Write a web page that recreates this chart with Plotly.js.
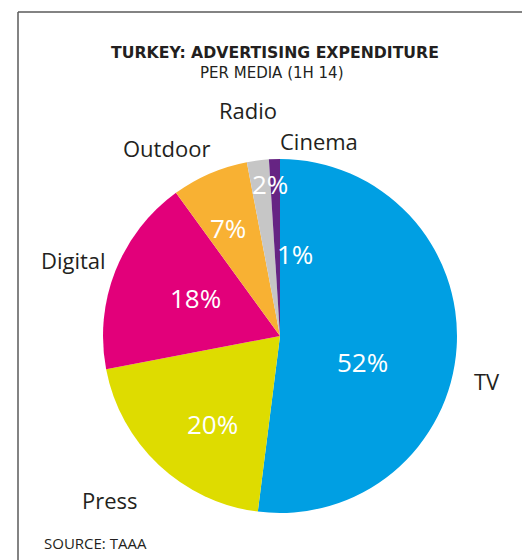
<!DOCTYPE html>
<html>
<head>
<meta charset="utf-8">
<script src="https://cdn.plot.ly/plotly-3.0.1.min.js"></script>
<style>html,body{margin:0;padding:0;background:#fff;}#chart{width:522px;height:560px;}</style>
</head>
<body>
<div id="chart"></div>
<script>
// ---- data ----
const categories = ["TV", "Press", "Digital", "Outdoor", "Radio", "Cinema"];
const shares = [52, 20, 18, 7, 2, 1];
const colors = ["#009FE3", "#DEDC00", "#E2007A", "#F8B133", "#C6C6C6", "#662483"];
const titleText = "TURKEY: ADVERTISING EXPENDITURE";
const subtitleText = "PER MEDIA (1H 14)";
const sourceText = "SOURCE: TAAA";

// ---- layout helpers (pixel positions of the text labels, top-left origin) ----
const W = 522, H = 560;
const labelPos = [[487, 381], [110, 500], [73, 260], [166, 148], [248, 110], [319, 141]];
const pctPos   = [[362, 362], [212, 424], [195, 298], [228, 228], [270, 184], [295, 254]];

const FONT = "'Open Sans', 'Noto Sans', sans-serif";
const HFONT = "'DejaVu Sans', 'Open Sans', sans-serif";
const px = x => x / W;
const py = y => 1 - y / H;

const pieTrace = {
  type: "pie",
  labels: categories,
  values: shares,
  sort: false,
  direction: "clockwise",
  rotation: 0,
  marker: {colors: colors, line: {width: 0}},
  textinfo: "none",
  domain: {x: [px(103), px(457)], y: [py(513), py(159)]},
  hoverinfo: "label+percent",
  showlegend: false
};

const annotations = [];
categories.forEach((c, i) => {
  annotations.push({
    text: c, xref: "paper", yref: "paper",
    x: px(labelPos[i][0]), y: py(labelPos[i][1]),
    xanchor: "center", yanchor: "middle", showarrow: false,
    font: {family: FONT, size: 22, color: "#231f20"}
  });
  annotations.push({
    text: shares[i] + "%", xref: "paper", yref: "paper",
    x: px(pctPos[i][0]), y: py(pctPos[i][1]),
    xanchor: "center", yanchor: "middle", showarrow: false,
    font: {family: FONT, size: 26, color: "#ffffff"}
  });
});
annotations.push(
  {text: "<b>" + titleText + "</b>", xref: "paper", yref: "paper", x: px(274.5), y: py(52), xanchor: "center", yanchor: "middle", showarrow: false, font: {family: HFONT, size: 15.7, color: "#231f20"}},
  {text: subtitleText, xref: "paper", yref: "paper", x: px(272), y: py(73), xanchor: "center", yanchor: "middle", showarrow: false, font: {family: HFONT, size: 15, color: "#231f20"}},
  {text: sourceText, xref: "paper", yref: "paper", x: px(42), y: py(543), xanchor: "left", yanchor: "middle", showarrow: false, font: {family: FONT, size: 15, color: "#231f20"}}
);

const layout = {
  width: W,
  height: H,
  margin: {l: 0, r: 0, t: 0, b: 0},
  paper_bgcolor: "#ffffff",
  showlegend: false,
  font: {family: FONT},
  shapes: [
    {type: "line", xref: "paper", yref: "paper", x0: px(18), x1: 1, y0: py(12), y1: py(12), line: {color: "#5a5a5a", width: 1.5}},
    {type: "line", xref: "paper", yref: "paper", x0: px(18), x1: px(18), y0: 0, y1: py(12), line: {color: "#5a5a5a", width: 1.5}}
  ],
  annotations: annotations
};

Plotly.newPlot("chart", [pieTrace], layout, {displayModeBar: false, staticPlot: true});
</script>
</body>
</html>
